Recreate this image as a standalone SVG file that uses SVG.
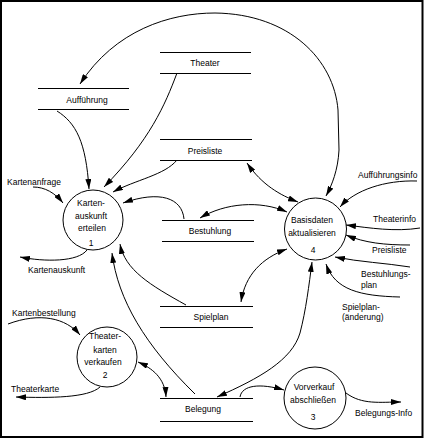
<svg xmlns="http://www.w3.org/2000/svg" width="426" height="441" viewBox="0 0 426 441">
<style>
text{font-family:"Liberation Sans",Arial,sans-serif;font-size:8.5px;fill:#000}
.m{text-anchor:middle}
.st line{stroke:#000;stroke-width:1}
.pr circle{fill:#fff;stroke:#000;stroke-width:1}
#connectors path{fill:none;stroke:#000;stroke-width:1;marker-end:url(#ah)}
#connectors path.bi{marker-start:url(#ah)}
#connectors path.no{marker-end:none}
</style>
<defs>
<marker id="ah" viewBox="0 0 10 6" refX="10" refY="3" markerWidth="10" markerHeight="6" markerUnits="userSpaceOnUse" orient="auto-start-reverse"><path d="M0,0 L10,3 L0,6 z" fill="#000"/></marker>
</defs>
<rect x="0" y="0" width="426" height="441" fill="#fff"/>
<rect x="1" y="1" width="421.5" height="436" fill="none" stroke="#000" stroke-width="2"/>

<g id="connectors">
<path class="bi" d="M80,84 C115,30 170,13 215,13 C290,14 334,60 338,110 L339,150 C338,170 332,185 326,196"/>
<path d="M177,73 C165,105 150,140 104,187"/>
<path d="M57,111 C76,123 86,142 89,189"/>
<path d="M177,160 C165,175 135,180 113,192"/>
<path d="M184,219 C182,198 160,190 123,203"/>
<path d="M186,305 C150,285 125,270 120,244"/>
<path d="M195,394 C145,345 118,300 112,253"/>
<path class="bi" d="M138,362 C152,368 165,378 166,397"/>
<path d="M33,187 C45,187 55,193 63,203"/>
<path d="M87,250 C78,262 45,262 20,257"/>
<path d="M8,324 C40,312 66,318 80,335"/>
<path d="M100,387 C88,398 50,398 16,397"/>
<path d="M240,397 C242,385 260,383 284,390"/>
<path d="M346,393 C362,405 380,402 401,402"/>
<path class="bi" d="M312,262 C309,285 306,310 300,333 C292,360 260,378 217,397"/>
<path class="bi" d="M287,249 C262,258 245,275 241,302"/>
<path class="bi" d="M247,163 C262,185 280,195 298,202"/>
<path class="bi" d="M200,218 C225,203 260,200 287,212"/>
<path d="M417,181 C385,180 355,190 340,207"/>
<path d="M420,228 C395,232 370,228 346,225"/>
<path d="M410,245 C385,245 365,243 346,235"/>
<path d="M410,267 C385,263 360,262 335,257"/>
<path d="M400,297 C360,296 335,290 326,264"/>
</g>

<g id="store-theater" class="st"><line x1="160" y1="52.5" x2="251" y2="52.5"/><line x1="160" y1="73.5" x2="251" y2="73.5"/><text x="205" y="66" class="m">Theater</text></g>
<g id="store-auffuehrung" class="st"><line x1="38" y1="88.5" x2="129" y2="88.5"/><line x1="38" y1="109.5" x2="129" y2="109.5"/><text x="87" y="103" class="m">Aufführung</text></g>
<g id="store-preisliste" class="st"><line x1="160" y1="139.5" x2="252" y2="139.5"/><line x1="160" y1="160.5" x2="252" y2="160.5"/><text x="205" y="154" class="m">Preisliste</text></g>
<g id="store-bestuhlung" class="st"><line x1="162" y1="220.5" x2="254" y2="220.5"/><line x1="162" y1="241.5" x2="254" y2="241.5"/><text x="210" y="234" class="m">Bestuhlung</text></g>
<g id="store-spielplan" class="st"><line x1="160" y1="306.5" x2="253" y2="306.5"/><line x1="160" y1="327.5" x2="253" y2="327.5"/><text x="211" y="320" class="m">Spielplan</text></g>
<g id="store-belegung" class="st"><line x1="160" y1="398.5" x2="253" y2="398.5"/><line x1="160" y1="421.5" x2="253" y2="421.5"/><text x="203" y="412" class="m">Belegung</text></g>

<g id="p1" class="pr"><circle cx="93" cy="220" r="30"/><text x="91" y="206" class="m">Karten-</text><text x="91" y="219" class="m">auskunft</text><text x="92" y="231" class="m">erteilen</text><text x="91" y="246" class="m">1</text></g>
<g id="p2" class="pr"><circle cx="107" cy="357" r="30"/><text x="105" y="339" class="m">Theater-</text><text x="105" y="353" class="m">karten</text><text x="103" y="365" class="m">verkaufen</text><text x="105" y="378" class="m">2</text></g>
<g id="p3" class="pr"><circle cx="315" cy="398" r="31"/><text x="314" y="390" class="m">Vorverkauf</text><text x="313" y="403" class="m">abschließen</text><text x="313" y="420" class="m">3</text></g>
<g id="p4" class="pr"><circle cx="315.5" cy="229" r="31"/><text x="312" y="223" class="m">Basisdaten</text><text x="312" y="236" class="m">aktualisieren</text><text x="313" y="253" class="m">4</text></g>

<g id="labels">
<text x="7" y="185">Kartenanfrage</text>
<text x="28" y="273">Kartenauskunft</text>
<text x="12" y="316">Kartenbestellung</text>
<text x="11" y="392">Theaterkarte</text>
<text x="358" y="178">Aufführungsinfo</text>
<text x="373" y="222">Theaterinfo</text>
<text x="372" y="253">Preisliste</text>
<text x="361" y="277">Bestuhlungs-</text>
<text x="361" y="288">plan</text>
<text x="342" y="310">Spielplan-</text>
<text x="342" y="320">(änderung)</text>
<text x="355" y="416">Belegungs-Info</text>
</g>
</svg>
